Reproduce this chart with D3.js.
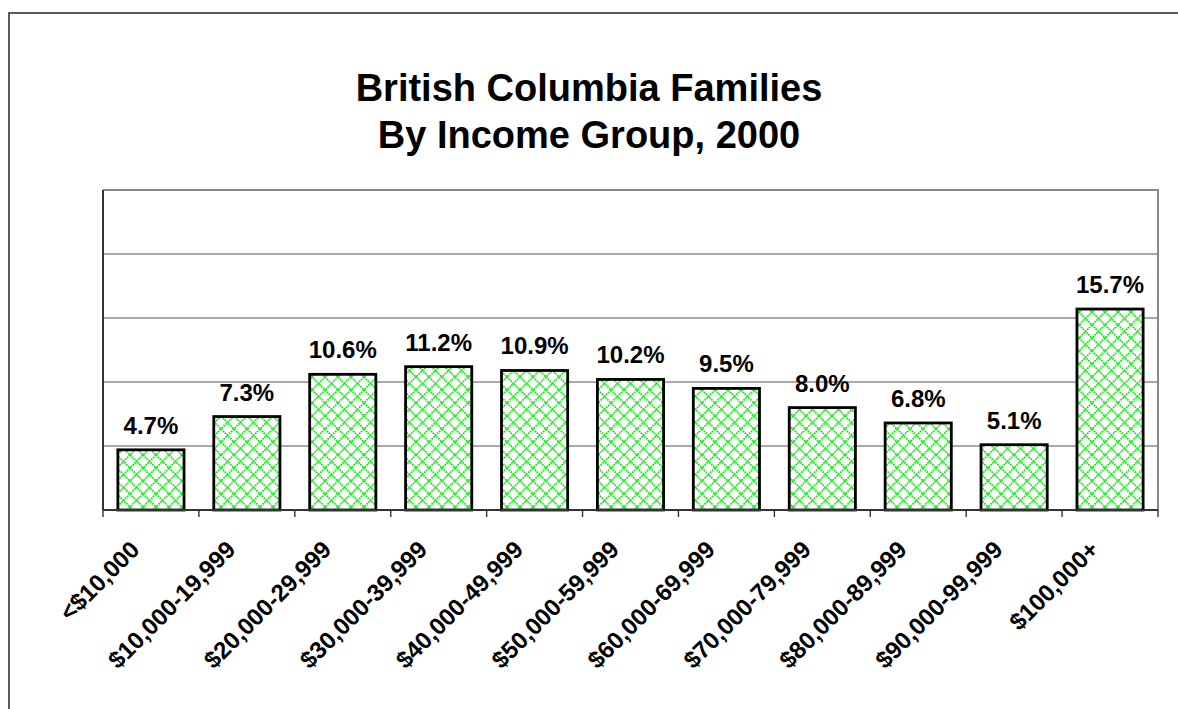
<!DOCTYPE html>
<html>
<head>
<meta charset="utf-8">
<script src="https://cdn.jsdelivr.net/npm/d3@7"></script>
<style>
  html, body { margin: 0; padding: 0; background: #fff; }
  svg { display: block; }
  text { font-family: "Liberation Sans", Arial, sans-serif; font-weight: bold; fill: #000; }
</style>
</head>
<body>
<svg id="chart" width="1178" height="709"></svg>
<script>
// Income groups and share of families (%)
const categories = ["<$10,000", "$10,000-19,999", "$20,000-29,999", "$30,000-39,999",
  "$40,000-49,999", "$50,000-59,999", "$60,000-69,999", "$70,000-79,999",
  "$80,000-89,999", "$90,000-99,999", "$100,000+"];
const shares = [4.7, 7.3, 10.6, 11.2, 10.9, 10.2, 9.5, 8.0, 6.8, 5.1, 15.7];
const gridTicks = [5, 10, 15, 20];
const titleLines = ["British Columbia Families", "By Income Group, 2000"];

const svg = d3.select("#chart");
const W = 1178, H = 709;
const plot = { left: 103, right: 1158, top: 190, bottom: 510 };

// Outer chart frame (extends past the right and bottom edges)
svg.append("rect")
  .attr("x", 9).attr("y", 13)
  .attr("width", W + 20).attr("height", H + 20)
  .attr("fill", "#fff").attr("stroke", "#333").attr("stroke-width", 1.6);

// Cross-hatch fill used by the bars
const defs = svg.append("defs");
const pat = defs.append("pattern")
  .attr("id", "hatch").attr("patternUnits", "userSpaceOnUse")
  .attr("width", 13).attr("height", 13);
pat.append("rect").attr("width", 13).attr("height", 13).attr("fill", "#fff");
pat.append("path")
  .attr("d", "M0,0 L13,13 M13,0 L0,13 M-1,12 L1,14 M12,-1 L14,1 M-1,1 L1,-1 M12,14 L14,12")
  .attr("stroke", "#14e814").attr("stroke-width", 1.7)
  .attr("stroke-dasharray", "1.8,0.8");

const x = d3.scaleBand()
  .domain(categories)
  .range([plot.left, plot.right])
  .paddingInner(0.31)
  .paddingOuter(0.155);

const y = d3.scaleLinear().domain([0, 25]).range([plot.bottom, plot.top]);

// Gridlines
svg.append("g").selectAll("line")
  .data(gridTicks).join("line")
  .attr("x1", plot.left).attr("x2", plot.right)
  .attr("y1", d => y(d)).attr("y2", d => y(d))
  .attr("stroke", "#555").attr("stroke-width", 1.2);

// Plot frame: top and right edges
svg.append("path")
  .attr("d", `M${plot.left},${y(25)} H${plot.right} V${plot.bottom}`)
  .attr("fill", "none").attr("stroke", "#888").attr("stroke-width", 2);

// Bars
svg.append("g").selectAll("rect")
  .data(shares).join("rect")
  .attr("x", (d, i) => x(categories[i]))
  .attr("y", d => y(d))
  .attr("width", x.bandwidth())
  .attr("height", d => y(0) - y(d))
  .attr("fill", "url(#hatch)")
  .attr("stroke", "#000").attr("stroke-width", 2.8);

// Left axis line
svg.append("line")
  .attr("x1", plot.left).attr("x2", plot.left)
  .attr("y1", plot.top).attr("y2", plot.bottom)
  .attr("stroke", "#333").attr("stroke-width", 2);

// Category axis with ticks at band boundaries
const xAxis = svg.append("g");
xAxis.append("line")
  .attr("x1", plot.left).attr("x2", plot.right)
  .attr("y1", plot.bottom).attr("y2", plot.bottom)
  .attr("stroke", "#333").attr("stroke-width", 2);
xAxis.selectAll("line.tick")
  .data(d3.range(categories.length + 1)).join("line")
  .attr("class", "tick")
  .attr("x1", i => plot.left + i * x.step())
  .attr("x2", i => plot.left + i * x.step())
  .attr("y1", plot.bottom).attr("y2", plot.bottom + 7)
  .attr("stroke", "#333").attr("stroke-width", 1.4);

// Rotated category labels
svg.append("g").selectAll("text")
  .data(categories).join("text")
  .attr("transform", d => `translate(${x(d) + x.bandwidth() / 2 - 10},551) rotate(-45)`)
  .attr("text-anchor", "end")
  .attr("font-size", 24)
  .text(d => d);

// Value labels
svg.append("g").selectAll("text")
  .data(shares).join("text")
  .attr("x", (d, i) => x(categories[i]) + x.bandwidth() / 2)
  .attr("y", d => y(d) - 16)
  .attr("text-anchor", "middle")
  .attr("font-size", 24)
  .text(d => d.toFixed(1) + "%");

// Title
svg.append("g").selectAll("text")
  .data(titleLines).join("text")
  .attr("x", 589)
  .attr("y", (d, i) => 101 + i * 47)
  .attr("text-anchor", "middle")
  .attr("font-size", 38)
  .text(d => d);
</script>
</body>
</html>
